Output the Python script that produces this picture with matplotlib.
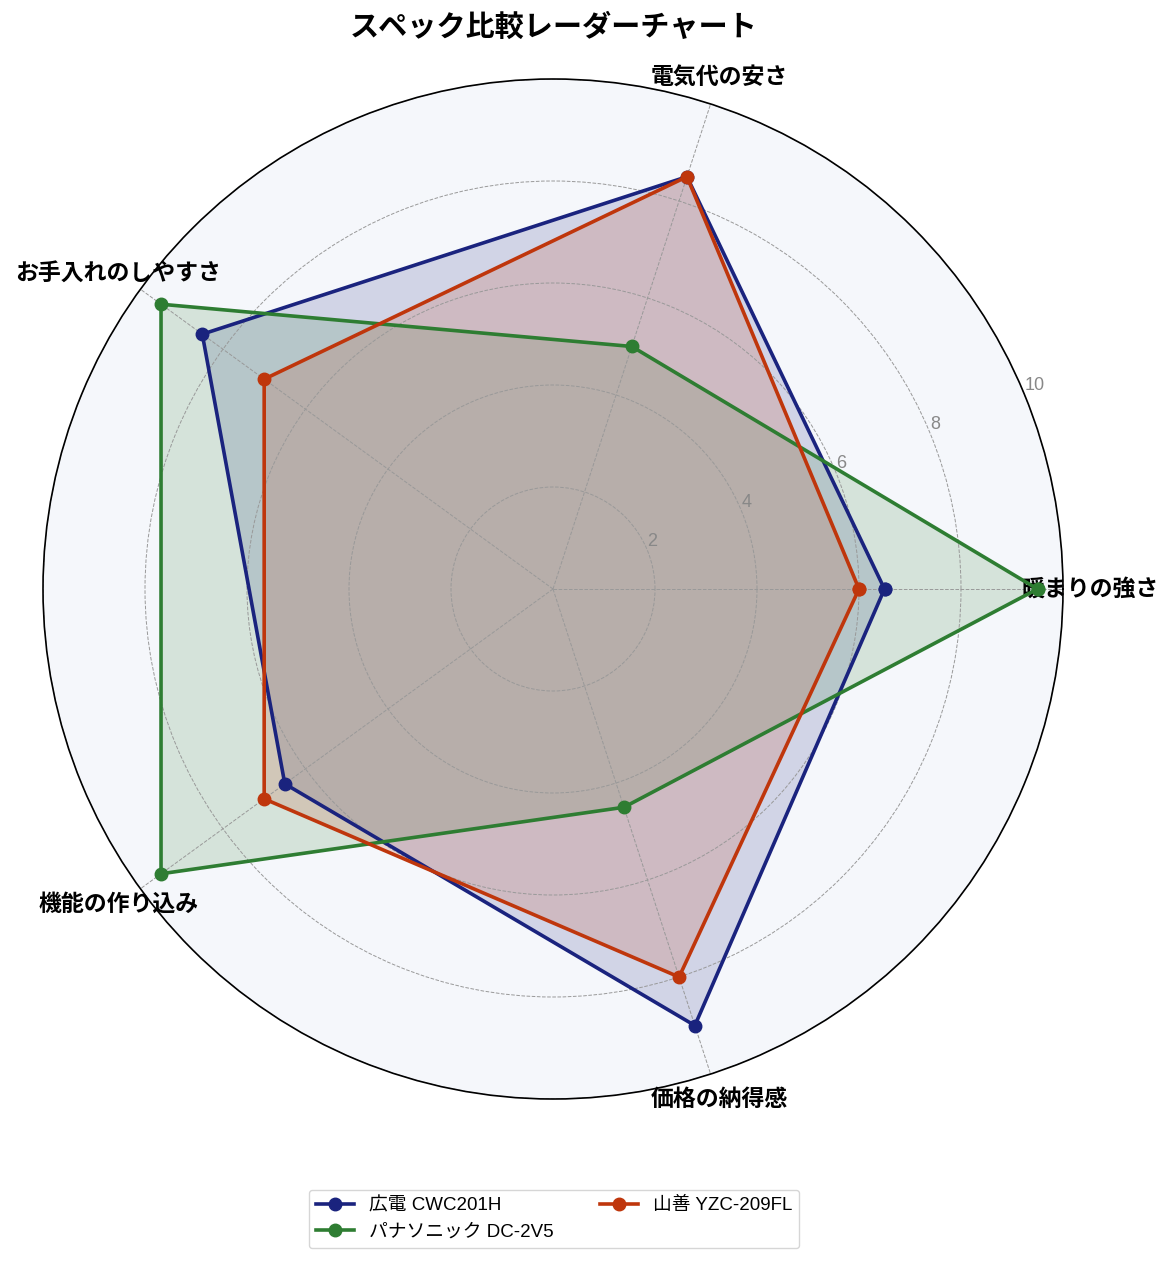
import numpy as np
import matplotlib
matplotlib.use("Agg")
import matplotlib.pyplot as plt

plt.rcParams['font.family'] = ['Liberation Sans', 'Noto Sans CJK JP', 'DejaVu Sans']
cjk = ['Noto Sans CJK JP', 'DejaVu Sans']

categories = ["暖まりの強さ", "電気代の安さ", "お手入れのしやすさ", "機能の作り込み", "価格の納得感"]
series_names = ["広電 CWC201H", "パナソニック DC-2V5", "山善 YZC-209FL"]
values_kouden = [6.5, 8.5, 8.5, 6.5, 9.0]
values_pana = [9.5, 5.0, 9.5, 9.5, 4.5]
values_yamazen = [6.0, 8.5, 7.0, 7.0, 8.0]
colors = ["#1a237e", "#2e7d32", "#bf360c"]

angles = np.linspace(0, 2 * np.pi, len(categories), endpoint=False)
angles_closed = np.concatenate([angles, angles[:1]])

fig = plt.figure(figsize=(11.76, 12.67), dpi=100)
ax = fig.add_axes([43 / 1176, 168 / 1267, 1020 / 1176, 1020 / 1267], projection="polar")
ax.set_facecolor("#f5f7fb")

for name, vals, col in zip(series_names, [values_kouden, values_pana, values_yamazen], colors):
    v = np.concatenate([vals, vals[:1]])
    ax.plot(angles_closed, v, color=col, lw=2.6, marker="o", markersize=9, label=name)
    ax.fill(angles_closed, v, color=col, alpha=0.16)

ax.set_ylim(0, 10)
ax.set_yticks([2, 4, 6, 8, 10])
ax.set_yticklabels(["2", "4", "6", "8", "10"], color="#888888", fontsize=13)
ax.set_rlabel_position(22.5)
ax.set_xticks(angles)
ax.set_xticklabels(categories, fontsize=16.5, fontweight="bold", family=cjk)
ax.tick_params(axis="x", pad=9)
ax.grid(True, color="#999999", linestyle="--", linewidth=0.7)
ax.spines["polar"].set_color("black")
ax.spines["polar"].set_linewidth(1.2)

fig.text(554 / 1176, 1 - 27 / 1267, "スペック比較レーダーチャート", ha="center", va="center",
         fontsize=21, fontweight="bold", family=cjk)

fig.legend(loc="center", bbox_to_anchor=(554 / 1176, 1 - 1219 / 1267), ncol=2, fontsize=13.5,
           frameon=True, edgecolor="#cccccc", columnspacing=2.5)

fig.savefig("out.png", dpi=100)
